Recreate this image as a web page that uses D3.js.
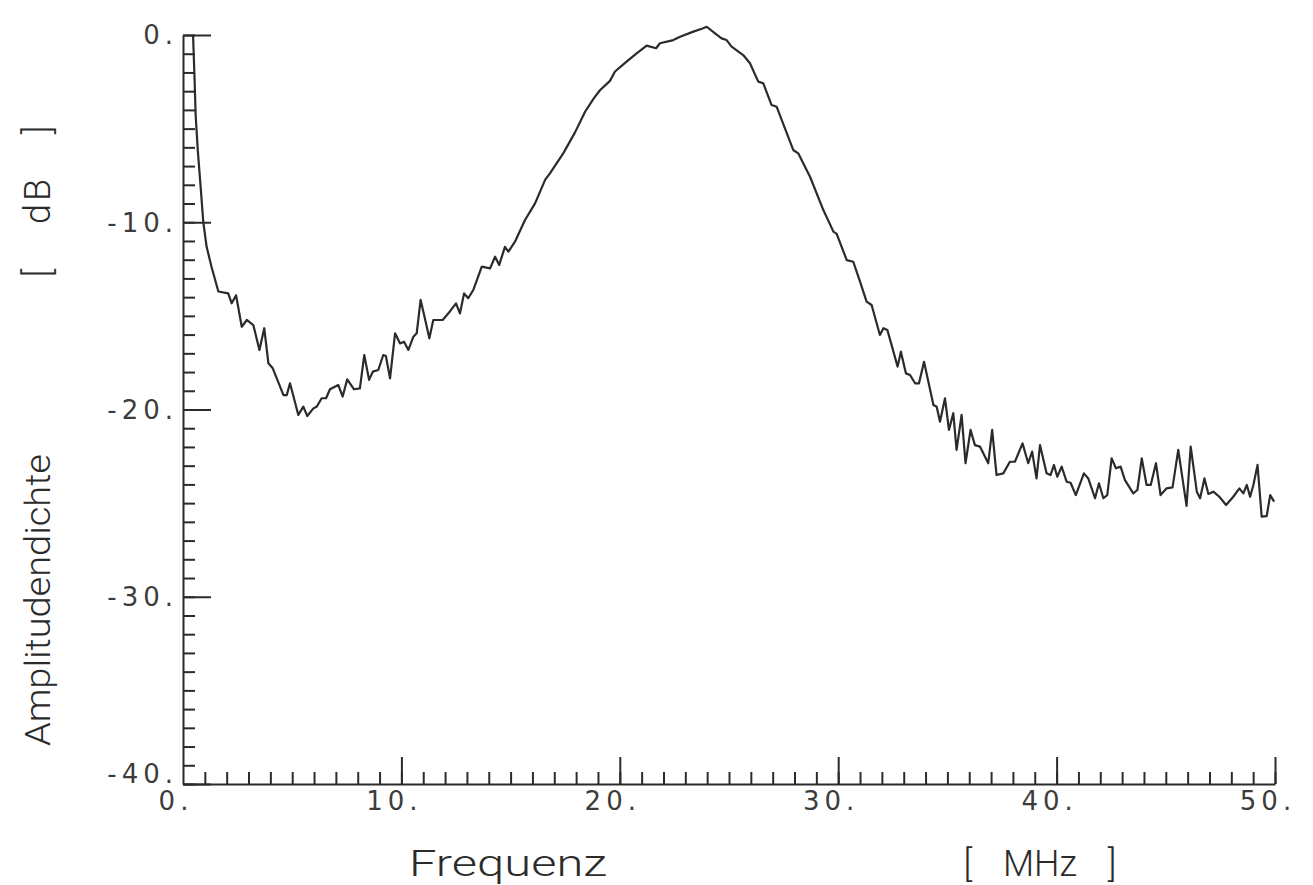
<!DOCTYPE html>
<html>
<head>
<meta charset="utf-8">
<script src="https://cdn.jsdelivr.net/npm/d3@7"></script>
<style>
  html, body { margin: 0; padding: 0; background: #ffffff; }
  svg { display: block; }
</style>
</head>
<body>
<svg id="chart" width="1313" height="885"></svg>
<script>
// ---- data (frequency in MHz, amplitude density in dB) ----
const spectrum = [
  [0.46, 0.0], [0.52, -2.0], [0.58, -4.3], [0.68, -6.2], [0.78, -7.7], [0.93, -10.0], [1.08, -11.3], [1.31, -12.4], [1.62, -13.7],
  [2.07, -13.8], [2.23, -14.33], [2.43, -13.9], [2.69, -15.58], [2.92, -15.22], [3.22, -15.49], [3.50, -16.82], [3.72, -15.66],
  [3.91, -17.53], [4.11, -17.80], [4.60, -19.23], [4.75, -19.23], [4.90, -18.60], [5.28, -20.29], [5.51, -19.85], [5.69, -20.35],
  [5.97, -19.94], [6.12, -19.85], [6.35, -19.40], [6.55, -19.40], [6.73, -18.92], [7.11, -18.69], [7.31, -19.31], [7.52, -18.39],
  [7.83, -18.92], [8.10, -18.87], [8.30, -17.09], [8.52, -18.42], [8.69, -17.98], [8.94, -17.89], [9.17, -17.09], [9.29, -17.14],
  [9.48, -18.34], [9.71, -15.93], [9.94, -16.47], [10.12, -16.38], [10.32, -16.82], [10.55, -16.11], [10.70, -15.93], [10.88, -14.15],
  [11.04, -14.95], [11.28, -16.20], [11.46, -15.22], [11.89, -15.22], [12.23, -14.75], [12.50, -14.33], [12.68, -14.87], [12.87, -13.80],
  [13.06, -14.06], [13.29, -13.62], [13.68, -12.37], [14.06, -12.46], [14.29, -11.84], [14.48, -12.28], [14.74, -11.31], [14.90, -11.57],
  [15.20, -11.04], [15.66, -9.88], [16.12, -8.99], [16.58, -7.74], [16.80, -7.39], [17.41, -6.32], [17.95, -5.20], [18.41, -4.10],
  [18.80, -3.40], [19.09, -2.95], [19.55, -2.45], [19.78, -1.95], [20.31, -1.42], [20.77, -0.98], [21.23, -0.57], [21.66, -0.71], [21.84, -0.44],
  [22.45, -0.27], [22.76, -0.09], [23.37, 0.18], [23.82, 0.36], [23.98, 0.44], [24.36, 0.09], [24.66, -0.18], [24.89, -0.27],
  [25.12, -0.62], [25.65, -1.07], [25.96, -1.51], [26.34, -2.49], [26.57, -2.58], [26.95, -3.74], [27.18, -3.83], [27.94, -6.14],
  [28.17, -6.32], [28.71, -7.57], [29.32, -9.35], [29.78, -10.50], [29.93, -10.62], [30.39, -12.02], [30.69, -12.11], [31.00, -13.17],
  [31.30, -14.24], [31.53, -14.42], [31.91, -16.02], [32.07, -15.66], [32.25, -15.75], [32.72, -17.71], [32.87, -16.91], [33.10, -18.07],
  [33.29, -18.16], [33.52, -18.60], [33.70, -18.60], [33.93, -17.45], [34.36, -19.76], [34.51, -19.85], [34.66, -20.65], [34.89, -19.40],
  [35.07, -21.09], [35.27, -20.20], [35.42, -22.16], [35.65, -20.29], [35.83, -22.87], [36.06, -21.09], [36.26, -21.90], [36.49, -21.98],
  [36.87, -22.87], [37.05, -21.09], [37.25, -23.50], [37.56, -23.41], [37.86, -22.79], [38.09, -22.79], [38.44, -21.81], [38.70, -22.87],
  [38.88, -22.25], [39.08, -23.68], [39.24, -21.90], [39.54, -23.41], [39.72, -23.50], [39.88, -22.96], [40.03, -23.59], [40.23, -23.05],
  [40.46, -23.86], [40.64, -23.91], [40.88, -24.57], [41.25, -23.41], [41.45, -23.68], [41.76, -24.74], [41.94, -23.94], [42.14, -24.74],
  [42.32, -24.57], [42.52, -22.61], [42.72, -23.14], [42.93, -23.05], [43.13, -23.77], [43.51, -24.48], [43.70, -24.30], [43.90, -22.61],
  [44.12, -24.03], [44.31, -24.03], [44.55, -22.87], [44.76, -24.57], [45.04, -24.21], [45.31, -24.16], [45.57, -22.16], [45.95, -25.15],
  [46.14, -21.98], [46.42, -24.39], [46.57, -24.74], [46.77, -23.68], [46.95, -24.51], [47.18, -24.39], [47.45, -24.66], [47.76, -25.10],
  [48.09, -24.66], [48.37, -24.21], [48.55, -24.48], [48.71, -24.03], [48.86, -24.66], [49.01, -24.03], [49.20, -22.96], [49.39, -25.72],
  [49.62, -25.69], [49.78, -24.57], [49.96, -24.92]
];
const xTickValues = [0, 10, 20, 30, 40, 50];
const xTickLabels = ["0.", "10.", "20.", "30.", "40.", "50."];
const yTickValues = [0, -10, -20, -30, -40];
const yTickLabels = ["0.", "-10.", "-20.", "-30.", "-40."];
const xTitle = "Frequenz";
const xUnit = "[ MHz ]";
const yTitle = "Amplitudendichte";
const yUnit = "[ dB ]";

// ---- drawing ----
const ink = "#2b2b2b";
const svg = d3.select("#chart");
const x = d3.scaleLinear().domain([0, 50]).range([183, 1275]);
const y = d3.scaleLinear().domain([-40, 0]).range([784, 35]);

// y axis: minor ticks every 1 dB, major every 10 dB, ticks pointing inward
const yMinor = d3.axisRight(y).tickValues(d3.range(-40, 1, 1)).tickSize(12).tickSizeOuter(0).tickFormat("");
const yMajor = d3.axisRight(y).tickValues(yTickValues).tickSize(28).tickSizeOuter(0).tickFormat("");
svg.append("g").attr("transform", `translate(${x(0)},0)`).call(yMinor);
const gy2 = svg.append("g").attr("transform", `translate(${x(0)},0)`).call(yMajor);
gy2.select(".domain").remove();

// x axis: minor every 1 MHz, major every 10 MHz, ticks pointing up
const xMinor = d3.axisTop(x).tickValues(d3.range(1, 51, 1)).tickSize(12).tickSizeOuter(0).tickFormat("");
const xMajor = d3.axisTop(x).tickValues(xTickValues.filter(v => v > 0)).tickSize(27).tickSizeOuter(0).tickFormat("");
svg.append("g").attr("transform", `translate(0,${y(-40)})`).call(xMinor);
const gx2 = svg.append("g").attr("transform", `translate(0,${y(-40)})`).call(xMajor);
gx2.select(".domain").remove();

svg.selectAll(".domain, .tick line").attr("stroke", ink).attr("stroke-width", 2);

// tick labels
const tickFont = "'DejaVu Sans', sans-serif";
const tickInk = "#3c3c3c";
svg.append("g").selectAll("text").data(yTickValues).join("text")
  .attr("x", x(0) - 5)
  .attr("y", d => y(d) + (d === -40 ? -10 : 0))
  .attr("dy", "0.36em")
  .attr("text-anchor", "end")
  .attr("font-family", tickFont)
  .attr("font-size", 26)
  .attr("letter-spacing", 5)
  .attr("fill", tickInk)
  .text((d, i) => yTickLabels[i]);

svg.append("g").selectAll("text").data(xTickValues).join("text")
  .attr("x", d => x(d) - 7)
  .attr("y", y(-40) + 26)
  .attr("text-anchor", "middle")
  .attr("font-family", tickFont)
  .attr("font-size", 26)
  .attr("letter-spacing", 5)
  .attr("fill", tickInk)
  .text((d, i) => xTickLabels[i]);

// axis titles
const titleFont = "Roboto, 'Liberation Sans', sans-serif";
svg.append("text").attr("x", 508).attr("y", 876).attr("text-anchor", "middle")
  .attr("font-family", titleFont).attr("font-weight", 300).attr("font-size", 37).attr("fill", ink)
  .attr("textLength", 198).attr("lengthAdjust", "spacingAndGlyphs").text(xTitle);
svg.append("text").attr("x", 1040).attr("y", 876).attr("text-anchor", "middle")
  .attr("font-family", titleFont).attr("font-weight", 300).attr("font-size", 36).attr("fill", ink)
  .attr("word-spacing", 22)
  .text(xUnit);
svg.append("text").attr("transform", "translate(50,600) rotate(-90)").attr("text-anchor", "middle")
  .attr("font-family", titleFont).attr("font-weight", 300).attr("font-size", 35).attr("fill", ink)
  .attr("textLength", 292).attr("lengthAdjust", "spacingAndGlyphs").text(yTitle);
svg.append("text").attr("transform", "translate(50,200) rotate(-90)").attr("text-anchor", "middle")
  .attr("font-family", titleFont).attr("font-weight", 300).attr("font-size", 36).attr("fill", ink)
  .attr("word-spacing", 30).attr("letter-spacing", 3)
  .text(yUnit);

// spectrum line
const line = d3.line().x(d => x(d[0])).y(d => y(d[1]));
svg.append("path").datum(spectrum)
  .attr("d", line)
  .attr("fill", "none")
  .attr("stroke", ink)
  .attr("stroke-width", 2.2)
  .attr("stroke-linejoin", "round");
</script>
</body>
</html>
